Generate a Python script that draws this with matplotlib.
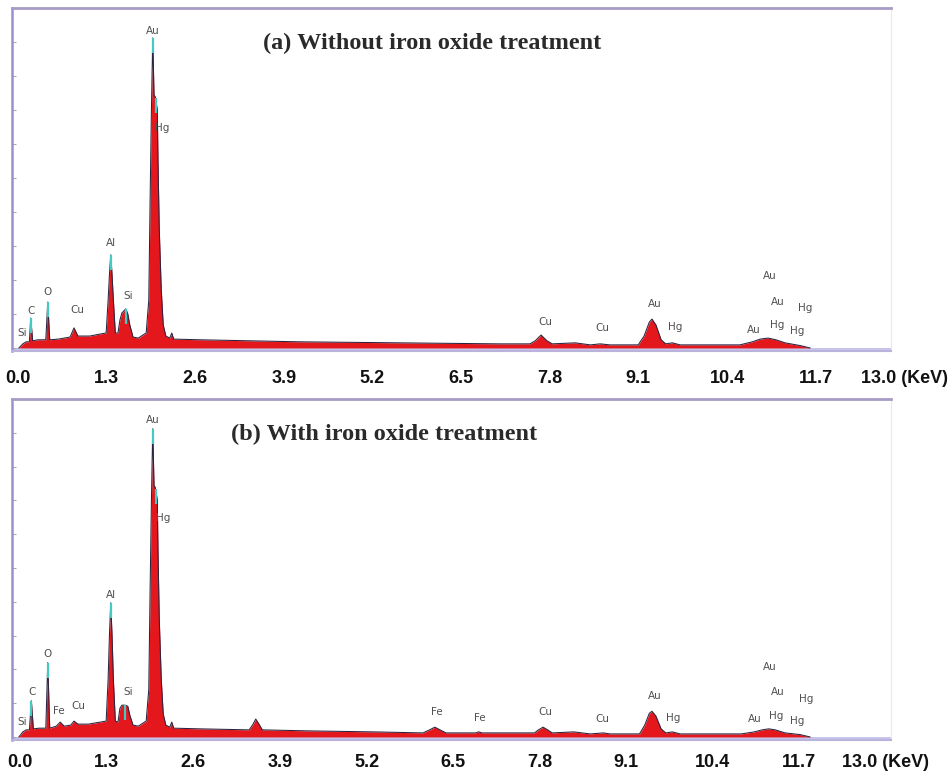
import numpy as np
import matplotlib
matplotlib.use("Agg")
import matplotlib.pyplot as plt

# ---------------- data (energy in keV, intensity in arbitrary counts) ----------------
energy_a = [0.09, 0.15, 0.20, 0.25, 0.27, 0.30, 0.38, 0.50, 0.53, 0.56, 0.69, 0.87, 0.93, 0.99,
            1.17, 1.33, 1.42, 1.45, 1.47, 1.49, 1.51, 1.53, 1.56, 1.60, 1.63, 1.66, 1.72, 1.75,
            1.78, 1.83, 1.91, 1.98, 2.03, 2.07, 2.09, 2.11, 2.13, 2.15, 2.17, 2.20, 2.21, 2.23,
            2.26, 2.29, 2.33, 2.39, 2.42, 2.45, 2.85, 4.37, 5.90, 7.42, 7.88, 7.96, 8.05, 8.14,
            8.22, 8.57, 8.80, 8.95, 9.10, 9.53, 9.62, 9.70, 9.74, 9.80, 9.88, 9.95, 10.05, 10.17,
            11.08, 11.27, 11.39, 11.51, 11.63, 11.77, 12.00, 12.15]
counts_a = [0, 1.2, 1.8, 1.8, 8.8, 2.1, 2.4, 2.4, 13.5, 2.4, 2.6, 3.2, 5.9, 3.5,
            3.5, 4.1, 4.4, 14.1, 21.5, 27.4, 21.5, 14.1, 4.4, 4.4, 8.2, 10.3, 11.5, 10.0,
            6.8, 3.2, 2.9, 3.8, 4.4, 14.1, 43.5, 70, 91.2, 74.4, 73.8, 70, 55.3, 34.7,
            17.1, 6.8, 3.5, 2.9, 4.4, 2.6, 2.4, 1.8, 1.5, 1.2, 1.2, 2.1, 3.8, 2.1,
            1.2, 1.5, 0.9, 1.2, 0.9, 0.9, 3.5, 7.6, 8.5, 6.8, 2.4, 1.2, 1.5, 0.9,
            0.9, 1.8, 2.6, 2.9, 2.4, 1.5, 0.7, 0]

energy_b = [0.09, 0.15, 0.20, 0.25, 0.28, 0.31, 0.40, 0.50, 0.53, 0.56, 0.66, 0.72, 0.78, 0.88,
            0.93, 0.99, 1.15, 1.33, 1.42, 1.45, 1.47, 1.49, 1.51, 1.53, 1.56, 1.60, 1.63, 1.66,
            1.71, 1.75, 1.78, 1.83, 1.91, 1.98, 2.03, 2.07, 2.09, 2.11, 2.13, 2.15, 2.17, 2.20,
            2.21, 2.23, 2.26, 2.29, 2.33, 2.39, 2.42, 2.45, 2.85, 3.60, 3.66, 3.70, 3.75, 3.80,
            4.50, 5.50, 6.25, 6.35, 6.43, 6.51, 6.60, 7.05, 7.10, 7.15, 7.95, 8.01, 8.08, 8.15,
            8.22, 8.55, 8.80, 9.00, 9.10, 9.55, 9.63, 9.70, 9.74, 9.80, 9.88, 9.95, 10.05, 10.17,
            11.10, 11.30, 11.42, 11.52, 11.62, 11.77, 12.00, 12.15]
counts_b = [0, 1.5, 2.1, 2.1, 10.7, 2.4, 2.6, 2.6, 22.0, 2.6, 3.2, 4.4, 3.2, 3.5,
            4.7, 3.8, 3.8, 4.4, 4.7, 17.0, 30.0, 39.7, 30.0, 17.0, 4.7, 4.4, 8.5, 9.4,
            9.4, 9.1, 6.5, 3.5, 3.2, 4.1, 4.7, 14.1, 43.5, 70, 91.2, 74.4, 73.8, 70,
            55.3, 34.7, 17.1, 6.8, 3.5, 2.9, 4.4, 2.6, 2.4, 2.1, 3.8, 5.3, 3.8, 2.1,
            1.8, 1.5, 1.2, 2.1, 2.9, 2.1, 1.2, 1.2, 1.5, 1.2, 1.2, 2.1, 2.9, 2.1,
            1.2, 1.5, 0.9, 1.2, 0.9, 0.9, 3.5, 7.0, 7.6, 6.2, 2.4, 1.2, 1.5, 0.9,
            0.9, 1.5, 2.1, 2.4, 2.1, 1.2, 0.7, 0]

# element labels: text, energy (keV), height (counts)
labels_a = ["Si", "C", "O", "Cu", "Al", "Si", "Au", "Hg", "Cu", "Cu", "Au", "Hg",
            "Au", "Au", "Hg", "Au", "Hg", "Hg"]
label_x_a = [0.14, 0.27, 0.53, 0.98, 1.49, 1.75, 2.13, 2.27, 8.11, 8.98, 9.79, 10.09,
             11.54, 11.66, 12.07, 11.30, 11.65, 11.95]
label_y_a = [4.4, 10.9, 16.5, 11.2, 30.9, 15.3, 93.2, 64.7, 7.6, 5.9, 12.9, 6.2,
             21.2, 13.5, 11.8, 5.3, 6.8, 5.0]

labels_b = ["Si", "C", "O", "Fe", "Cu", "Al", "Si", "Au", "Hg", "Fe", "Fe", "Cu", "Cu",
            "Au", "Hg", "Au", "Au", "Hg", "Au", "Hg", "Hg"]
label_x_b = [0.14, 0.29, 0.53, 0.70, 0.99, 1.49, 1.75, 2.13, 2.29, 6.46, 7.12, 8.11, 8.98,
             9.79, 10.06, 11.54, 11.66, 12.09, 11.31, 11.63, 11.95]
label_y_b = [4.4, 13.2, 24.4, 7.6, 9.1, 42.1, 13.2, 93.8, 64.7, 7.4, 5.6, 7.4, 5.3,
             12.1, 5.6, 20.6, 13.2, 11.2, 5.3, 6.2, 4.7]

# cyan line markers at peak tops
marker_x_a = [0.27, 0.53, 1.49, 1.72, 2.13, 2.18]
marker_top_a = [8.8, 13.5, 27.4, 11.5, 91.2, 73.5]
marker_x_b = [0.28, 0.53, 1.49, 1.70, 2.13, 2.18]
marker_top_b = [10.7, 22.0, 39.7, 9.4, 91.2, 73.5]

titles = ["(a) Without iron oxide treatment", "(b) With iron oxide treatment"]
tick_values = [0.0, 1.3, 2.6, 3.9, 5.2, 6.5, 7.8, 9.1, 10.4, 11.7, 13.0]
tick_labels = ["0.0", "1.3", "2.6", "3.9", "5.2", "6.5", "7.8", "9.1", "10.4", "11.7",
               "13.0 (KeV)"]

# ---------------- layout ----------------
W, H = 953, 773
fig = plt.figure(figsize=(W / 100, H / 100), dpi=100)
fig.patch.set_facecolor("white")

def fx(px):
    return px / W

def fy(py):
    return 1 - py / H

panels = [
    dict(energy=energy_a, counts=counts_a, labels=labels_a, lx=label_x_a, ly=label_y_a,
         mx=marker_x_a, mt=marker_top_a, top=8, bottom=351, title_xy=(0.478, 0.898),
         lab_y=370, lab_x0=17.8, lab_s=68.2),
    dict(energy=energy_b, counts=counts_b, labels=labels_b, lx=label_x_b, ly=label_y_b,
         mx=marker_x_b, mt=marker_top_b, top=399, bottom=740, title_xy=(0.423, 0.897),
         lab_y=754, lab_x0=20.2, lab_s=66.6),
]

frame_left, frame_right = 12, 891
zero_px, px_per_kev = 13, 65.6

for i, p in enumerate(panels):
    ax = fig.add_axes([fx(frame_left), fy(p["bottom"]), fx(frame_right - frame_left),
                       (p["bottom"] - p["top"]) / H])
    ax.set_xlim((frame_left - zero_px) / px_per_kev, (frame_right - zero_px) / px_per_kev)
    ax.set_ylim(-0.9, 100)
    ax.axhspan(-0.9, 0.0, color="#c8c5ec", zorder=1, lw=0)
    ax.fill_between(p["energy"], 0, p["counts"], color="#e3171c", lw=0, zorder=2)
    ax.plot(p["energy"], p["counts"], color="#2b2440", lw=0.75, zorder=3)
    ax.vlines(p["mx"], np.array(p["mt"]) - 4.5, p["mt"], color="#45c9c4", lw=1.6, zorder=4)
    for t, x, y in zip(p["labels"], p["lx"], p["ly"]):
        ax.text(x, y, t, ha="center", va="center", fontsize=7.5, color="#505050",
                family="DejaVu Sans", zorder=5)
    ax.text(p["title_xy"][0], p["title_xy"][1], titles[i], transform=ax.transAxes,
            ha="center", va="center", fontsize=17.5, fontweight="bold",
            family="Liberation Serif", color="#2a2a2a")
    # frame
    for side, col, lw in [("top", "#a79cc6", 2.0), ("left", "#9d8fd0", 1.8),
                          ("right", "#eee6f4", 0.8), ("bottom", "#b9b3dc", 1.5)]:
        ax.spines[side].set_color(col)
        ax.spines[side].set_linewidth(lw)
    ax.set_yticks(np.arange(0, 101, 10))
    ax.tick_params(axis="y", direction="in", length=3, width=0.8, color="#aaaaaa",
                   labelleft=False)
    ax.set_xticks([])

    # tick-label axis (labels typed on the figure with their own spacing)
    lab = fig.add_axes([0, fy(p["lab_y"]), 1, 0.0001])
    lab.set_xlim(-p["lab_x0"] / p["lab_s"], (W - p["lab_x0"]) / p["lab_s"])
    lab.set_xticks(tick_values)
    lab.set_xticklabels(tick_labels, fontsize=13, fontweight="bold",
                        family="Liberation Sans", color="#111111")
    lab.tick_params(axis="x", length=0, pad=0)
    lab.set_yticks([])
    for s in lab.spines.values():
        s.set_visible(False)
    lab.patch.set_alpha(0)

fig.savefig("out.png", dpi=100, facecolor="white")
